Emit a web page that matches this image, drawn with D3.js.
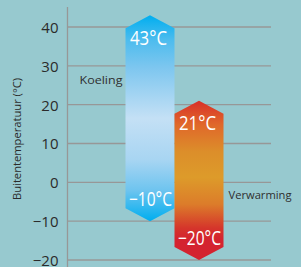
<!DOCTYPE html>
<html><head><meta charset="utf-8">
<script src="https://cdn.jsdelivr.net/npm/d3@7"></script>
<style>html,body{margin:0;padding:0;background:#97c9cf;}svg{display:block;}</style>
</head><body>
<script>
const categories = ["Koeling", "Verwarming"];
const maxTemps = [43, 21];
const minTemps = [-10, -20];
const maxLabels = ["43°C", "21°C"];
const minLabels = ["−10°C", "−20°C"];
const tickValues = [-20, -10, 0, 10, 20, 30, 40];
const yTitle = "Buitentemperatuur (°C)";

const W = 301, H = 267;
const svg = d3.select("body").append("svg").attr("width", W).attr("height", H);
svg.append("rect").attr("width", W).attr("height", H).attr("fill", "#97c9cf");

const y = d3.scaleLinear().domain([-20, 40]).range([260, 27]);
const x = d3.scaleBand().domain(categories).range([125.5, 223.5]).paddingInner(0).paddingOuter(0);

// gridlines
const gridG = svg.append("g");
gridG.selectAll("line").data(tickValues).join("line")
  .attr("x1", 67.5).attr("x2", 271)
  .attr("y1", d => y(d)).attr("y2", d => y(d))
  .attr("stroke", "#979797").attr("stroke-width", 1.3);

// axis
const axis = d3.axisLeft(y).tickValues(tickValues).tickSize(0).tickPadding(9)
  .tickFormat(d => d < 0 ? "−" + Math.abs(d) : String(d));
const ag = svg.append("g").attr("transform", "translate(67.5,0)").call(axis);
ag.select(".domain").remove();
ag.append("line").attr("x1", 0).attr("x2", 0).attr("y1", 7).attr("y2", H).attr("stroke", "#979797").attr("stroke-width", 1.3);
ag.selectAll(".tick text").attr("font-family", "'Open Sans', sans-serif").attr("font-size", 15).attr("fill", "#2b2b2b").attr("dy", "0.36em");

// y title
svg.append("text").attr("transform", "translate(21,139) rotate(-90)")
  .attr("text-anchor", "middle").attr("font-family", "'Open Sans', sans-serif")
  .attr("font-size", 10.5).attr("fill", "#2b2b2b")
  .attr("textLength", 122).attr("lengthAdjust", "spacingAndGlyphs").text(yTitle);

// gradients
const defs = svg.append("defs");
const gradStops = [
  [[0, "#00aeef"], [0.12, "#4dbcee"], [0.25, "#7cc6ef"], [0.5, "#c4e0f5"], [0.7, "#a8d5f2"], [0.85, "#6ec4ef"], [1, "#00aeef"]],
  [[0, "#d8302a"], [0.15, "#e0682a"], [0.32, "#dc8e2a"], [0.48, "#dd9b2a"], [0.65, "#dc7c2a"], [0.8, "#d5352b"], [0.87, "#d4232f"], [1, "#d42330"]]
];
const tip = 13;
categories.forEach((c, i) => {
  const g = defs.append("linearGradient").attr("id", "g" + i)
    .attr("gradientUnits", "userSpaceOnUse")
    .attr("x1", 0).attr("x2", 0).attr("y1", y(maxTemps[i])).attr("y2", y(minTemps[i]));
  gradStops[i].forEach(s => g.append("stop").attr("offset", s[0]).attr("stop-color", s[1]));
});

svg.append("g").selectAll("path").data(categories).join("path")
  .attr("d", (c, i) => {
    const x0 = x(c), x1 = x(c) + x.bandwidth(), xm = x(c) + x.bandwidth() / 2;
    const yt = y(maxTemps[i]), yb = y(minTemps[i]);
    return `M${x0},${yt + tip}L${xm},${yt}L${x1},${yt + tip}L${x1},${yb - tip}L${xm},${yb}L${x0},${yb - tip}Z`;
  })
  .attr("fill", (c, i) => `url(#g${i})`);

// value labels
const lab = svg.append("g").attr("font-family", "'Open Sans', sans-serif").attr("font-size", 19.5)
  .attr("fill", "#ffffff").attr("text-anchor", "middle");
lab.selectAll("text.mx").data(categories).join("text").attr("class", "mx")
  .attr("x", c => x(c) + x.bandwidth() / 2 - 1.5)
  .attr("y", (c, i) => y(maxTemps[i]) + 29.5)
  .attr("textLength", 37).attr("lengthAdjust", "spacingAndGlyphs")
  .text((c, i) => maxLabels[i]);
lab.selectAll("text.mn").data(categories).join("text").attr("class", "mn")
  .attr("x", c => x(c) + x.bandwidth() / 2 + 0.5)
  .attr("y", (c, i) => y(minTemps[i]) - 15.5)
  .attr("textLength", 43).attr("lengthAdjust", "spacingAndGlyphs")
  .text((c, i) => minLabels[i]);

// category labels
const cl = svg.append("g").attr("font-family", "'Open Sans', sans-serif").attr("font-size", 11).attr("fill", "#2f2f2f");
cl.append("text").attr("x", 79.5).attr("y", 84).attr("textLength", 43).attr("lengthAdjust", "spacingAndGlyphs").text(categories[0]);
cl.append("text").attr("x", 228.5).attr("y", 199).attr("textLength", 63).attr("lengthAdjust", "spacingAndGlyphs").text(categories[1]);
</script>
</body></html>
